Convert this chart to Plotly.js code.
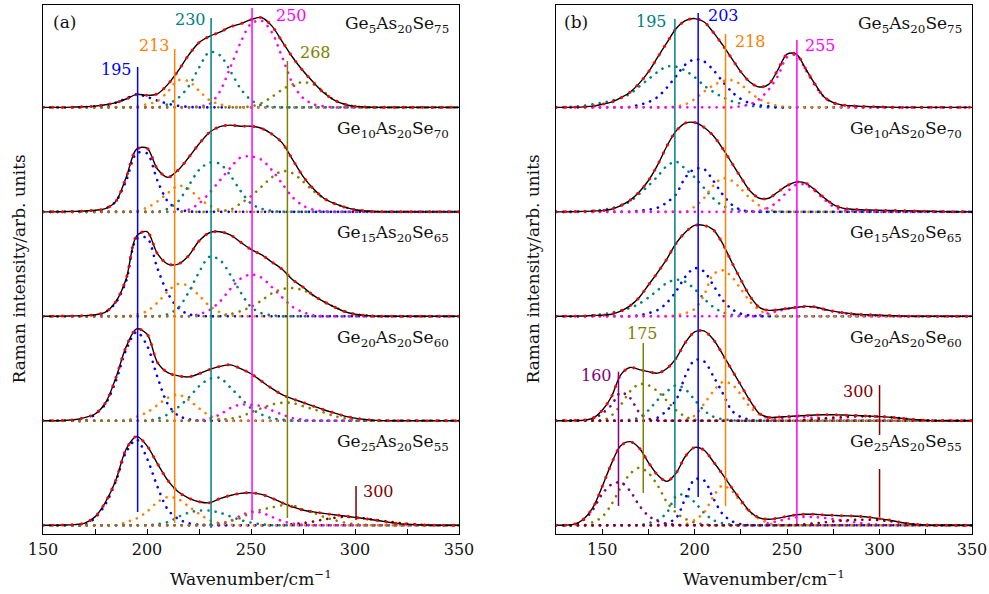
<!DOCTYPE html>
<html>
<head>
<meta charset="utf-8">
<script src="https://cdn.plot.ly/plotly-3.0.1.min.js"></script>
<style>
html,body{margin:0;padding:0;background:#fff;}
#chart{width:989px;height:594px;}
.scatterlayer path.js-line{stroke-linecap:round;}
</style>
</head>
<body>
<div id="chart"></div>
<script>
// ---------- x grids (cm^-1) ----------
const xLeft = [150,155,160,165,170, 175,180,185,190,195, 200,205,210,215,220, 225,230,235,240,245,
  250,255,260,265,270, 275,280,285,290,295, 300,305,310,315,320, 325,330,335,340,345, 350];
const xRight = [125,130,135,140,145, 150,155,160,165,170, 175,180,185,190,195, 200,205,210,215,220,
  225,230,235,240,245, 250,255,260,265,270, 275,280,285,290,295, 300,305,310,315,320, 325,330,335,340,345, 350];

// ---------- panel (a) : Ge5As20Se75 ----------
const L1_total  = [0,0,0,0.003,0.006, 0.012,0.025,0.045,0.08,0.125, 0.115,0.13,0.22,0.35,0.5, 0.62,0.68,0.72,0.77,0.8, 0.84,0.86,0.78,0.63,0.48, 0.35,0.24,0.14,0.07,0.03, 0.01,0.003,0,0,0, 0,0,0,0,0, 0];
const L1_c195   = [0,0,0,0,0.003, 0.01,0.02,0.045,0.085,0.125, 0.1,0.065,0.035,0.015,0.005, 0,0,0,0,0, 0,0,0,0,0, 0,0,0,0,0, 0,0,0,0,0, 0,0,0,0,0, 0];
const L1_c213   = [0,0,0,0,0, 0,0,0,0,0.01, 0.03,0.06,0.15,0.26,0.25, 0.16,0.07,0.03,0.01,0, 0,0,0,0,0, 0,0,0,0,0, 0,0,0,0,0, 0,0,0,0,0, 0];
const L1_c230   = [0,0,0,0,0, 0,0,0,0,0, 0,0,0.03,0.09,0.2, 0.38,0.53,0.5,0.35,0.18, 0.07,0.02,0.005,0,0, 0,0,0,0,0, 0,0,0,0,0, 0,0,0,0,0, 0];
const L1_c250   = [0,0,0,0,0, 0,0,0,0,0, 0,0,0,0,0, 0.01,0.03,0.15,0.38,0.62, 0.8,0.83,0.72,0.48,0.23, 0.09,0.03,0.01,0,0, 0,0,0,0,0, 0,0,0,0,0, 0];
const L1_c268   = [0,0,0,0,0, 0,0,0,0,0, 0,0,0,0,0, 0,0,0,0,0, 0.01,0.04,0.1,0.17,0.22, 0.24,0.22,0.15,0.07,0.03, 0.01,0,0,0,0, 0,0,0,0,0, 0];
// Ge10As20Se70
const L2_total  = [0,0,0.002,0.004,0.008, 0.015,0.03,0.1,0.33,0.6, 0.61,0.41,0.33,0.4,0.52, 0.65,0.76,0.815,0.83,0.82, 0.82,0.8,0.745,0.66,0.5, 0.34,0.22,0.13,0.08,0.045, 0.02,0.008,0.002,0,0, 0,0,0,0,0, 0];
const L2_c195   = [0,0,0,0,0, 0,0.03,0.1,0.3,0.56, 0.56,0.3,0.1,0.025,0.005, 0,0,0,0,0, 0,0,0,0,0, 0,0,0,0,0, 0,0,0,0,0, 0,0,0,0,0, 0];
const L2_c213   = [0,0,0,0,0, 0,0,0,0,0.01, 0.04,0.1,0.18,0.25,0.22, 0.13,0.06,0.02,0.005,0, 0,0,0,0,0, 0,0,0,0,0, 0,0,0,0,0, 0,0,0,0,0, 0];
const L2_c230   = [0,0,0,0,0, 0,0,0,0,0, 0,0,0.03,0.1,0.25, 0.4,0.47,0.46,0.35,0.2, 0.08,0.03,0.01,0,0, 0,0,0,0,0, 0,0,0,0,0, 0,0,0,0,0, 0];
const L2_c250   = [0,0,0,0,0, 0,0,0,0,0, 0,0,0,0,0.02, 0.08,0.18,0.3,0.42,0.52, 0.53,0.5,0.4,0.27,0.14, 0.06,0.02,0.005,0,0, 0,0,0,0,0, 0,0,0,0,0, 0];
const L2_c268   = [0,0,0,0,0, 0,0,0,0,0, 0,0,0,0,0, 0,0,0.01,0.02,0.08, 0.15,0.24,0.33,0.39,0.37, 0.29,0.2,0.13,0.08,0.045, 0.02,0.008,0.002,0,0, 0,0,0,0,0, 0];
// Ge15As20Se65
const L3_total  = [0,0,0.002,0.004,0.006, 0.015,0.04,0.14,0.36,0.77, 0.81,0.6,0.5,0.5,0.58, 0.72,0.8,0.81,0.78,0.71, 0.64,0.59,0.52,0.45,0.35, 0.28,0.2,0.14,0.09,0.045, 0.02,0.008,0.002,0,0, 0,0,0,0,0, 0];
const L3_c195   = [0,0,0,0,0, 0,0.04,0.13,0.34,0.74, 0.75,0.46,0.22,0.08,0.02, 0.005,0,0,0,0, 0,0,0,0,0, 0,0,0,0,0, 0,0,0,0,0, 0,0,0,0,0, 0];
const L3_c213   = [0,0,0,0,0, 0,0,0,0,0.02, 0.05,0.13,0.24,0.31,0.29, 0.2,0.1,0.04,0.01,0, 0,0,0,0,0, 0,0,0,0,0, 0,0,0,0,0, 0,0,0,0,0, 0];
const L3_c230   = [0,0,0,0,0, 0,0,0,0,0, 0,0,0.02,0.08,0.23, 0.42,0.57,0.54,0.4,0.23, 0.09,0.03,0.01,0,0, 0,0,0,0,0, 0,0,0,0,0, 0,0,0,0,0, 0];
const L3_c250   = [0,0,0,0,0, 0,0,0,0,0, 0,0,0,0,0, 0.02,0.06,0.14,0.26,0.36, 0.4,0.37,0.28,0.18,0.09, 0.04,0.01,0,0,0, 0,0,0,0,0, 0,0,0,0,0, 0];
const L3_c268   = [0,0,0,0,0, 0,0,0,0,0, 0,0,0,0,0, 0,0,0,0.02,0.05, 0.09,0.15,0.22,0.26,0.27, 0.25,0.2,0.14,0.09,0.05, 0.02,0.01,0,0,0, 0,0,0,0,0, 0];
// Ge20As20Se60
const L4_total  = [0,0,0.003,0.01,0.03, 0.065,0.17,0.41,0.71,0.88, 0.83,0.56,0.46,0.43,0.42, 0.45,0.49,0.52,0.535,0.5, 0.45,0.38,0.31,0.25,0.21, 0.175,0.14,0.105,0.075,0.045, 0.025,0.012,0.004,0,0, 0,0,0,0,0, 0];
const L4_c195   = [0,0,0,0,0, 0.06,0.16,0.38,0.68,0.85, 0.72,0.42,0.16,0.05,0.015, 0,0,0,0,0, 0,0,0,0,0, 0,0,0,0,0, 0,0,0,0,0, 0,0,0,0,0, 0];
const L4_c213   = [0,0,0,0,0, 0,0,0,0,0.04, 0.08,0.15,0.22,0.25,0.2, 0.12,0.05,0.015,0,0, 0,0,0,0,0, 0,0,0,0,0, 0,0,0,0,0, 0,0,0,0,0, 0];
const L4_c230   = [0,0,0,0,0, 0,0,0,0,0, 0,0.02,0.06,0.13,0.22, 0.33,0.4,0.41,0.32,0.22, 0.12,0.06,0.025,0.01,0, 0,0,0,0,0, 0,0,0,0,0, 0,0,0,0,0, 0];
const L4_c250   = [0,0,0,0,0, 0,0,0,0,0, 0,0,0,0,0, 0.005,0.02,0.06,0.12,0.155, 0.15,0.14,0.1,0.06,0.025, 0.01,0,0,0,0, 0,0,0,0,0, 0,0,0,0,0, 0];
const L4_c268   = [0,0,0,0,0, 0,0,0,0,0, 0,0,0,0,0, 0,0,0.01,0.02,0.04, 0.08,0.12,0.155,0.172,0.17, 0.14,0.11,0.08,0.045,0.025, 0.01,0.003,0,0,0, 0,0,0,0,0, 0];
// Ge25As20Se55
const L5_total  = [0,0,0.002,0.006,0.02, 0.08,0.22,0.43,0.73,0.85, 0.76,0.59,0.43,0.32,0.26, 0.225,0.215,0.255,0.285,0.305, 0.31,0.295,0.26,0.215,0.175, 0.145,0.128,0.113,0.1,0.088, 0.075,0.062,0.048,0.032,0.018, 0.01,0.005,0.002,0,0, 0];
const L5_c195   = [0,0,0,0,0, 0.07,0.2,0.42,0.7,0.82, 0.64,0.37,0.15,0.06,0.02, 0.005,0,0,0,0, 0,0,0,0,0, 0,0,0,0,0, 0,0,0,0,0, 0,0,0,0,0, 0];
const L5_c213   = [0,0,0,0,0, 0,0,0,0.03,0.065, 0.13,0.22,0.27,0.25,0.18, 0.11,0.05,0.02,0.005,0, 0,0,0,0,0, 0,0,0,0,0, 0,0,0,0,0, 0,0,0,0,0, 0];
const L5_c230   = [0,0,0,0,0, 0,0,0,0,0, 0,0.01,0.03,0.08,0.12, 0.14,0.14,0.12,0.085,0.05, 0.025,0.01,0,0,0, 0,0,0,0,0, 0,0,0,0,0, 0,0,0,0,0, 0];
const L5_c250   = [0,0,0,0,0, 0,0,0,0,0, 0,0,0,0,0, 0,0,0.01,0.04,0.09, 0.13,0.12,0.08,0.04,0.015, 0.005,0,0,0,0, 0,0,0,0,0, 0,0,0,0,0, 0];
const L5_c268   = [0,0,0,0,0, 0,0,0,0,0, 0,0,0,0,0, 0,0.01,0.02,0.04,0.07, 0.12,0.15,0.17,0.19,0.19, 0.15,0.12,0.08,0.05,0.025, 0.01,0.003,0,0,0, 0,0,0,0,0, 0];
const L5_c300   = [0,0,0,0,0, 0,0,0,0,0, 0,0,0,0,0, 0,0,0,0,0, 0,0,0,0,0.01, 0.02,0.035,0.055,0.07,0.08, 0.075,0.065,0.05,0.037,0.025, 0.014,0.006,0.002,0,0, 0];

// ---------- panel (b) ----------
const R1_total  = [0,0,0.002,0.005,0.012, 0.03,0.05,0.09,0.145,0.23, 0.34,0.48,0.62,0.755,0.83, 0.85,0.82,0.72,0.6,0.47, 0.34,0.24,0.195,0.22,0.36, 0.51,0.51,0.37,0.225,0.1, 0.045,0.022,0.015,0.01,0.007, 0.004,0.002,0,0,0, 0,0,0,0,0, 0];
const R1_c195   = [0,0.003,0.008,0.015,0.03, 0.045,0.065,0.09,0.13,0.2, 0.27,0.34,0.39,0.39,0.35, 0.29,0.21,0.15,0.1,0.06, 0.035,0.015,0.005,0,0, 0,0,0,0,0, 0,0,0,0,0, 0,0,0,0,0, 0,0,0,0,0, 0];
const R1_c203   = [0,0,0,0,0, 0,0,0,0.005,0.025, 0.05,0.1,0.19,0.3,0.41, 0.46,0.44,0.36,0.25,0.15, 0.08,0.04,0.02,0.01,0, 0,0,0,0,0, 0,0,0,0,0, 0,0,0,0,0, 0,0,0,0,0, 0];
const R1_c218   = [0,0,0,0,0, 0,0,0,0,0, 0,0,0,0.01,0.03, 0.08,0.15,0.21,0.25,0.26, 0.22,0.14,0.08,0.04,0.015, 0.005,0,0,0,0, 0,0,0,0,0, 0,0,0,0,0, 0,0,0,0,0, 0];
const R1_c255   = [0,0,0,0,0, 0,0,0,0,0, 0,0,0,0,0, 0,0,0,0,0, 0.01,0.03,0.08,0.17,0.3, 0.48,0.5,0.36,0.21,0.1, 0.04,0.015,0.005,0,0, 0,0,0,0,0, 0,0,0,0,0, 0];
const R2_total  = [0,0,0.002,0.004,0.008, 0.012,0.025,0.06,0.11,0.19, 0.3,0.45,0.63,0.775,0.85, 0.855,0.81,0.73,0.61,0.47, 0.33,0.2,0.13,0.13,0.19, 0.25,0.285,0.275,0.21,0.135, 0.07,0.035,0.025,0.02,0.017, 0.015,0.013,0.012,0.01,0.008, 0.006,0.004,0.002,0,0, 0];
const R2_c195   = [0,0,0,0.005,0.01, 0.02,0.035,0.06,0.1,0.17, 0.25,0.34,0.44,0.48,0.41, 0.33,0.23,0.13,0.06,0.025, 0.01,0.003,0,0,0, 0,0,0,0,0, 0,0,0,0,0, 0,0,0,0,0, 0,0,0,0,0, 0];
const R2_c203   = [0,0,0,0,0, 0,0,0,0,0.01, 0.02,0.04,0.09,0.17,0.33, 0.41,0.41,0.3,0.17,0.07, 0.02,0.005,0,0,0, 0,0,0,0,0, 0,0,0,0,0, 0,0,0,0,0, 0,0,0,0,0, 0];
const R2_c218   = [0,0,0,0,0, 0,0,0,0,0, 0,0,0,0,0, 0.05,0.13,0.25,0.32,0.3, 0.22,0.13,0.06,0.02,0.005, 0,0,0,0,0, 0,0,0,0,0, 0,0,0,0,0, 0,0,0,0,0, 0];
const R2_c255   = [0,0,0,0,0, 0,0,0,0,0, 0,0,0,0,0, 0,0,0,0,0, 0,0,0.01,0.04,0.1, 0.19,0.26,0.26,0.2,0.12, 0.05,0.02,0.008,0.003,0, 0,0,0,0,0, 0,0,0,0,0, 0];
const R3_total  = [0,0,0.001,0.003,0.008, 0.01,0.02,0.05,0.1,0.18, 0.3,0.42,0.55,0.7,0.805, 0.87,0.87,0.83,0.7,0.52, 0.35,0.19,0.085,0.057,0.062, 0.075,0.085,0.095,0.09,0.068, 0.05,0.035,0.025,0.018,0.014, 0.01,0.007,0.004,0.002,0, 0,0,0,0,0, 0];
const R3_c195   = [0,0,0,0,0.01, 0.02,0.035,0.055,0.08,0.12, 0.18,0.25,0.32,0.35,0.33, 0.26,0.17,0.09,0.04,0.015, 0.005,0,0,0,0, 0,0,0,0,0, 0,0,0,0,0, 0,0,0,0,0, 0,0,0,0,0, 0];
const R3_c203   = [0,0,0,0,0, 0,0,0,0,0.01, 0.03,0.06,0.13,0.24,0.38, 0.46,0.43,0.3,0.16,0.07, 0.025,0.008,0,0,0, 0,0,0,0,0, 0,0,0,0,0, 0,0,0,0,0, 0,0,0,0,0, 0];
const R3_c218   = [0,0,0,0,0, 0,0,0,0,0, 0,0,0,0.01,0.03, 0.07,0.2,0.4,0.44,0.38, 0.26,0.14,0.06,0.02,0.005, 0,0,0,0,0, 0,0,0,0,0, 0,0,0,0,0, 0,0,0,0,0, 0];
const R3_c255   = [0,0,0,0,0, 0,0,0,0,0, 0,0,0,0,0, 0,0,0,0,0, 0,0,0.01,0.03,0.05, 0.07,0.085,0.09,0.085,0.065, 0.045,0.03,0.02,0.012,0.008, 0.005,0.002,0,0,0, 0,0,0,0,0, 0];
const R4_total  = [0,0,0.002,0.005,0.025, 0.1,0.23,0.44,0.51,0.49, 0.47,0.456,0.5,0.6,0.75, 0.85,0.86,0.78,0.64,0.49, 0.34,0.19,0.07,0.033,0.035, 0.04,0.045,0.05,0.055,0.058, 0.057,0.055,0.052,0.048,0.044, 0.04,0.035,0.027,0.018,0.01, 0.004,0,0,0,0, 0];
const R4_c160   = [0,0,0,0.005,0.02, 0.07,0.15,0.27,0.22,0.08, 0.02,0.005,0,0,0, 0,0,0,0,0, 0,0,0,0,0, 0,0,0,0,0, 0,0,0,0,0, 0,0,0,0,0, 0,0,0,0,0, 0];
const R4_c175   = [0,0,0,0,0, 0,0.05,0.15,0.28,0.35, 0.34,0.28,0.19,0.1,0.04, 0.01,0,0,0,0, 0,0,0,0,0, 0,0,0,0,0, 0,0,0,0,0, 0,0,0,0,0, 0,0,0,0,0, 0];
const R4_c195   = [0,0,0,0,0, 0,0,0,0.01,0.03, 0.1,0.2,0.28,0.34,0.3, 0.2,0.1,0.04,0.015,0.005, 0,0,0,0,0, 0,0,0,0,0, 0,0,0,0,0, 0,0,0,0,0, 0,0,0,0,0, 0];
const R4_c203   = [0,0,0,0,0, 0,0,0,0,0, 0,0.03,0.1,0.2,0.43, 0.58,0.57,0.43,0.27,0.1, 0.035,0.01,0,0,0, 0,0,0,0,0, 0,0,0,0,0, 0,0,0,0,0, 0,0,0,0,0, 0];
const R4_c218   = [0,0,0,0,0, 0,0,0,0,0, 0,0,0,0,0.01, 0.05,0.16,0.28,0.37,0.35, 0.25,0.13,0.06,0.02,0.005, 0,0,0,0,0, 0,0,0,0,0, 0,0,0,0,0, 0,0,0,0,0, 0];
const R4_c255   = [0,0,0,0,0, 0,0,0,0,0, 0,0,0,0,0, 0,0,0,0,0, 0,0,0.005,0.015,0.025, 0.03,0.033,0.033,0.03,0.025, 0.018,0.012,0.007,0.003,0, 0,0,0,0,0, 0,0,0,0,0, 0];
const R4_c300   = [0,0,0,0,0, 0,0,0,0,0, 0,0,0,0,0, 0,0,0,0,0, 0,0,0,0,0, 0,0.003,0.008,0.015,0.022, 0.03,0.035,0.04,0.042,0.042, 0.04,0.035,0.027,0.018,0.01, 0.004,0,0,0,0, 0];
const R5_total  = [0,0,0.01,0.06,0.17, 0.37,0.59,0.76,0.8,0.74, 0.6,0.48,0.42,0.5,0.66, 0.745,0.72,0.61,0.49,0.36, 0.24,0.13,0.07,0.057,0.068, 0.085,0.1,0.105,0.105,0.098, 0.094,0.09,0.088,0.084,0.075, 0.063,0.05,0.032,0.016,0.007, 0.002,0,0,0,0, 0];
const R5_c160   = [0,0,0.005,0.05,0.15, 0.3,0.39,0.41,0.33,0.19, 0.09,0.04,0.015,0.005,0, 0,0,0,0,0, 0,0,0,0,0, 0,0,0,0,0, 0,0,0,0,0, 0,0,0,0,0, 0,0,0,0,0, 0];
const R5_c175   = [0,0,0,0,0.03, 0.08,0.2,0.36,0.49,0.55, 0.5,0.38,0.22,0.12,0.06, 0.025,0.01,0,0,0, 0,0,0,0,0, 0,0,0,0,0, 0,0,0,0,0, 0,0,0,0,0, 0,0,0,0,0, 0];
const R5_c195   = [0,0,0,0,0, 0,0,0,0,0, 0.02,0.05,0.12,0.28,0.29, 0.22,0.12,0.05,0.02,0.005, 0,0,0,0,0, 0,0,0,0,0, 0,0,0,0,0, 0,0,0,0,0, 0,0,0,0,0, 0];
const R5_c203   = [0,0,0,0,0, 0,0,0,0,0, 0,0,0.02,0.07,0.26, 0.44,0.43,0.26,0.11,0.04, 0.01,0,0,0,0, 0,0,0,0,0, 0,0,0,0,0, 0,0,0,0,0, 0,0,0,0,0, 0];
const R5_c218   = [0,0,0,0,0, 0,0,0,0,0, 0,0,0,0,0.01, 0.05,0.12,0.27,0.38,0.33, 0.22,0.12,0.06,0.02,0.005, 0,0,0,0,0, 0,0,0,0,0, 0,0,0,0,0, 0,0,0,0,0, 0];
const R5_c255   = [0,0,0,0,0, 0,0,0,0,0, 0,0,0,0,0, 0,0,0,0,0, 0,0,0,0.02,0.04, 0.06,0.075,0.08,0.078,0.07, 0.058,0.045,0.032,0.02,0.01, 0.004,0,0,0,0, 0,0,0,0,0, 0];
const R5_c300   = [0,0,0,0,0, 0,0,0,0,0, 0,0,0,0,0, 0,0,0,0,0, 0,0,0,0,0, 0,0.005,0.01,0.018,0.027, 0.037,0.045,0.05,0.053,0.052, 0.048,0.04,0.028,0.015,0.006, 0.002,0,0,0,0, 0];

// ---------- labels ----------
const samples = ['Ge<sub>5</sub>As<sub>20</sub>Se<sub>75</sub>', 'Ge<sub>10</sub>As<sub>20</sub>Se<sub>70</sub>',
  'Ge<sub>15</sub>As<sub>20</sub>Se<sub>65</sub>', 'Ge<sub>20</sub>As<sub>20</sub>Se<sub>60</sub>', 'Ge<sub>25</sub>As<sub>20</sub>Se<sub>55</sub>'];
const offsets = [4, 3, 2, 1, 0];

// peak marker lines: position, bottom, top, label text, label x, label y
const leftPeaks = ['195','213','230','250','268','300'];
const leftPeakX = [195.5, 213.3, 230.8, 250.5, 267.5, 300.5];
const leftPeakY0 = [0.127, 0.021, -0.027, 0.05, 0.069, 0.05];
const leftPeakY1 = [4.387, 4.559, 4.856, 4.951, 4.445, 0.376];
const leftLabX = [185.4, 203.7, 220.9, 269.6, 280.8, 311.1];
const leftLabY = [4.358, 4.588, 4.837, 4.875, 4.53, 0.321];
const leftColors = ['blue','orange','teal','magenta','olive','darkred'];

const rightPeaks = ['195','203','218','255','160','175','300'];
const rightPeakX = [189.3, 201.9, 216.7, 255.3, 158.8, 172.2, 300];
const rightPeakY0 = [0.165, 0.27, 0.184, 0.021, 0.184, 0.309, 0.864];
const rightPeakY1 = [4.846, 4.904, 4.703, 4.645, 1.47, 1.744, 1.342];
const rightLabX = [176.4, 215.6, 230.1, 268.1, 146.7, 172.0, 288.4];
const rightLabY = [4.82, 4.875, 4.629, 4.597, 1.438, 1.837, 1.278];
const rightColors = ['teal','blue','orange','magenta','purple','olive','darkred'];
const right300Lower = [0.079, 0.538];

const palette = {blue:'#0000ff', orange:'#ff8000', teal:'#008080', magenta:'#ff00ff',
  olive:'#808000', darkred:'#800000', purple:'#800080'};

const leftSets = [
  {total:L1_total, comps:[[L1_c195,'blue'],[L1_c213,'orange'],[L1_c230,'teal'],[L1_c250,'magenta'],[L1_c268,'olive']]},
  {total:L2_total, comps:[[L2_c195,'blue'],[L2_c213,'orange'],[L2_c230,'teal'],[L2_c250,'magenta'],[L2_c268,'olive']]},
  {total:L3_total, comps:[[L3_c195,'blue'],[L3_c213,'orange'],[L3_c230,'teal'],[L3_c250,'magenta'],[L3_c268,'olive']]},
  {total:L4_total, comps:[[L4_c195,'blue'],[L4_c213,'orange'],[L4_c230,'teal'],[L4_c250,'magenta'],[L4_c268,'olive']]},
  {total:L5_total, comps:[[L5_c300,'darkred'],[L5_c195,'blue'],[L5_c213,'orange'],[L5_c230,'teal'],[L5_c250,'magenta'],[L5_c268,'olive']]}
];
const rightSets = [
  {total:R1_total, comps:[[R1_c195,'teal'],[R1_c203,'blue'],[R1_c218,'orange'],[R1_c255,'magenta']]},
  {total:R2_total, comps:[[R2_c195,'teal'],[R2_c203,'blue'],[R2_c218,'orange'],[R2_c255,'magenta']]},
  {total:R3_total, comps:[[R3_c195,'teal'],[R3_c203,'blue'],[R3_c218,'orange'],[R3_c255,'magenta']]},
  {total:R4_total, comps:[[R4_c195,'teal'],[R4_c203,'blue'],[R4_c218,'orange'],[R4_c255,'magenta'],[R4_c160,'purple'],[R4_c175,'olive'],[R4_c300,'darkred']]},
  {total:R5_total, comps:[[R5_c195,'teal'],[R5_c203,'blue'],[R5_c218,'orange'],[R5_c255,'magenta'],[R5_c175,'olive'],[R5_c160,'purple'],[R5_c300,'darkred']]}
];

const FONT = 'DejaVu Serif';
const traces = [];
function addPanel(sets, xs, xa, ya) {
  sets.forEach((s, i) => {
    const off = offsets[i];
    s.comps.forEach(([vals, col]) => {
      traces.push({x: xs, y: vals.map(v => v + off), xaxis: xa, yaxis: ya, mode: 'lines',
        line: {color: palette[col], width: 2.6, dash: '0.1px,7.2px', shape: 'spline', smoothing: 0.9},
        hoverinfo: 'skip', showlegend: false});
    });
    traces.push({x: xs, y: s.total.map(v => v + off), xaxis: xa, yaxis: ya, mode: 'lines',
      line: {color: '#000000', width: 1.4, shape: 'spline', smoothing: 0.9}, hoverinfo: 'skip', showlegend: false});
    traces.push({x: xs, y: s.total.map(v => v + off), xaxis: xa, yaxis: ya, mode: 'lines',
      line: {color: '#ff0000', width: 3, dash: '0.1px,9.5px', shape: 'spline', smoothing: 0.9}, hoverinfo: 'skip', showlegend: false});
  });
}
addPanel(leftSets, xLeft, 'x', 'y');
addPanel(rightSets, xRight, 'x2', 'y2');

const shapes = [];
const annotations = [];
leftPeaks.forEach((t, i) => {
  shapes.push({type:'line', xref:'x', yref:'y', x0:leftPeakX[i], x1:leftPeakX[i], y0:leftPeakY0[i], y1:leftPeakY1[i],
    line:{color:palette[leftColors[i]], width:1.5}, layer:'above'});
  annotations.push({xref:'x', yref:'y', x:leftLabX[i], y:leftLabY[i], text:t, showarrow:false,
    font:{family:FONT, size:16, color:palette[leftColors[i]]}, xanchor:'center', yanchor:'middle'});
});
rightPeaks.forEach((t, i) => {
  shapes.push({type:'line', xref:'x2', yref:'y2', x0:rightPeakX[i], x1:rightPeakX[i], y0:rightPeakY0[i], y1:rightPeakY1[i],
    line:{color:palette[rightColors[i]], width:1.5}, layer:'above'});
  annotations.push({xref:'x2', yref:'y2', x:rightLabX[i], y:rightLabY[i], text:t, showarrow:false,
    font:{family:FONT, size:16, color:palette[rightColors[i]]}, xanchor:'center', yanchor:'middle'});
});
shapes.push({type:'line', xref:'x2', yref:'y2', x0:300, x1:300, y0:right300Lower[0], y1:right300Lower[1],
  line:{color:palette.darkred, width:1.5}, layer:'above'});

samples.forEach((t, i) => {
  annotations.push({xref:'x', yref:'y', x:346.3, y:offsets[i] + 0.79, text:t, showarrow:false,
    font:{family:FONT, size:17, color:'#111'}, xanchor:'right', yanchor:'middle'});
  annotations.push({xref:'x2', yref:'y2', x:345.8, y:offsets[i] + 0.79, text:t, showarrow:false,
    font:{family:FONT, size:17, color:'#111'}, xanchor:'right', yanchor:'middle'});
});
annotations.push({xref:'x', yref:'y', x:160.3, y:4.817, text:'(a)', showarrow:false,
  font:{family:FONT, size:17, color:'#111'}, xanchor:'center', yanchor:'middle'});
annotations.push({xref:'x2', yref:'y2', x:135.9, y:4.817, text:'(b)', showarrow:false,
  font:{family:FONT, size:17, color:'#111'}, xanchor:'center', yanchor:'middle'});

// axis titles
const xTitle = 'Wavenumber/cm<sup>−1</sup>';
const yTitle = 'Raman intensity/arb. units';
annotations.push({xref:'paper', yref:'paper', x:0.2239, y:-0.083, text:xTitle, showarrow:false,
  font:{family:FONT, size:17, color:'#111'}, xanchor:'center', yanchor:'middle'});
annotations.push({xref:'paper', yref:'paper', x:0.7761, y:-0.083, text:xTitle, showarrow:false,
  font:{family:FONT, size:17, color:'#111'}, xanchor:'center', yanchor:'middle'});
annotations.push({xref:'paper', yref:'paper', x:-0.0269, y:0.5, text:yTitle, showarrow:false, textangle:-90,
  font:{family:FONT, size:17, color:'#111'}, xanchor:'center', yanchor:'middle'});
annotations.push({xref:'paper', yref:'paper', x:0.5264, y:0.5, text:yTitle, showarrow:false, textangle:-90,
  font:{family:FONT, size:17, color:'#111'}, xanchor:'center', yanchor:'middle'});

const xCommon = {showline:true, mirror:true, linecolor:'#000', linewidth:1.3, ticks:'inside', ticklen:5,
  tickwidth:1, tickcolor:'#000', showgrid:false, zeroline:false, tick0:0, dtick:50,
  minor:{ticks:'inside', ticklen:5, tickwidth:1, tickcolor:'#000', dtick:25, tick0:0, showgrid:false},
  tickfont:{family:FONT, size:16, color:'#111'}, fixedrange:true};
const yCommon = {showline:true, mirror:true, linecolor:'#000', linewidth:1.3, ticks:'', showticklabels:false,
  showgrid:false, zeroline:false, range:[-0.084, 4.98], fixedrange:true};

const layout = {
  width:989, height:594, margin:{l:43, r:17, t:5, b:60},
  paper_bgcolor:'#fff', plot_bgcolor:'#fff', showlegend:false,
  xaxis: Object.assign({}, xCommon, {domain:[0,0.4478], range:[150,350], anchor:'y'}),
  yaxis: Object.assign({}, yCommon, {domain:[0,1], anchor:'x'}),
  xaxis2: Object.assign({}, xCommon, {domain:[0.5522,1], range:[125,350], anchor:'y2'}),
  yaxis2: Object.assign({}, yCommon, {domain:[0,1], anchor:'x2'}),
  shapes: shapes, annotations: annotations
};
Plotly.newPlot('chart', traces, layout, {staticPlot:true, displayModeBar:false});
</script>
</body>
</html>
